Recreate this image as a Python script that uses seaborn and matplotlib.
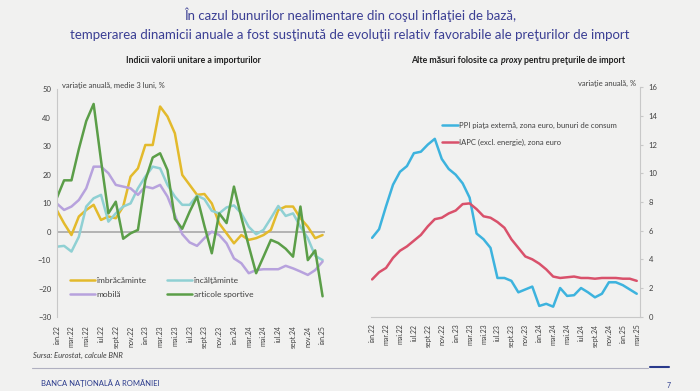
import pandas as pd
import matplotlib.pyplot as plt
import seaborn as sns
import numpy as np
from matplotlib.lines import Line2D

# left panel: monthly, ian.22 - ian.25
imbracaminte = [7.6, 2.9, -1.2, 5.3, 7.6, 9.4, 4.1, 5.3, 4.7, 8.8, 19.3, 22.2, 30.4, 30.4, 43.9, 40.4, 34.5,
                19.9, 16.4, 12.9, 13.2, 9.9, 2.9, -0.6, -4.1, -1.2, -2.9, -2.3, -1.2, 0.6, 7.6, 8.8, 8.8,
                4.7, 1.7, -2.3, -1.2]
incaltaminte = [-5.3, -5.0, -7.0, -1.8, 8.8, 11.7, 12.9, 3.5, 6.4, 8.8, 9.9, 15.2, 19.3, 22.8, 22.2, 16.4,
                12.3, 9.4, 9.4, 12.6, 11.4, 7.3, 6.4, 8.5, 9.2, 6.4, 1.7, -0.9, 0.6, 4.7, 9.0, 5.5, 6.4,
                1.7, -2.3, -8.5, -10.0]
mobila = [9.9, 7.6, 8.8, 11.1, 15.2, 22.8, 22.8, 20.5, 16.4, 15.8, 15.2, 12.9, 15.8, 15.2, 16.4, 12.3, 5.8,
          -0.9, -3.8, -5.0, -2.3, 0.0, -1.2, -4.1, -9.4, -11.1, -14.6, -13.5, -13.2, -13.2, -13.2, -12.0,
          -12.9, -14.0, -15.2, -13.5, -10.5]
articole_sportive = [11.7, 18.0, 18.0, 29.0, 38.8, 44.8, 25.0, 6.4, 10.5, -2.5, -0.6, 0.6, 18.0, 26.0, 27.5,
                     21.6, 4.5, 1.0, 7.0, 12.3, 2.0, -7.6, 6.4, 3.0, 15.8, 5.0, -5.0, -14.6, -8.8, -2.9,
                     -4.0, -6.0, -8.8, 8.8, -10.0, -6.6, -22.7]
left_ticks = ['ian.22', 'mar.22', 'mai.22', 'iul.22', 'sept.22', 'nov.22', 'ian.23', 'mar.23', 'mai.23',
              'iul.23', 'sept.23', 'nov.23', 'ian.24', 'mar.24', 'mai.24', 'iul.24', 'sept.24', 'nov.24',
              'ian.25']

# right panel: monthly, ian.22 - mar.25
ppi = [5.5, 6.1, 7.7, 9.2, 10.1, 10.5, 11.4, 11.5, 12.0, 12.4, 11.0, 10.3, 9.9, 9.3, 8.3, 5.8, 5.4, 4.8,
       2.7, 2.7, 2.5, 1.7, 1.9, 2.1, 0.75, 0.9, 0.7, 2.0, 1.45, 1.5, 2.0, 1.7, 1.35, 1.6, 2.4, 2.4, 2.2,
       1.9, 1.6]
iapc = [2.6, 3.1, 3.4, 4.1, 4.6, 4.9, 5.3, 5.7, 6.3, 6.8, 6.9, 7.2, 7.4, 7.85, 7.9, 7.5, 7.0, 6.9, 6.6,
        6.2, 5.4, 4.8, 4.2, 4.0, 3.7, 3.3, 2.8, 2.7, 2.75, 2.8, 2.7, 2.7, 2.65, 2.7, 2.7, 2.7, 2.65, 2.65,
        2.5]
right_ticks = ['ian.22', 'mar.22', 'mai.22', 'iul.22', 'sept.22', 'nov.22', 'ian.23', 'mar.23', 'mai.23',
               'iul.23', 'sept.23', 'nov.23', 'ian.24', 'mar.24', 'mai.24', 'iul.24', 'sept.24', 'nov.24',
               'ian.25', 'mar.25']

sns.set_style('white')
plt.rcParams['font.family'] = ['Lato', 'DejaVu Sans']
bg = '#f1f1f0'
txt = '#404040'

fig = plt.figure(figsize=(7, 3.91), dpi=100, facecolor=bg)
ax1 = fig.add_axes([0.081, 0.189, 0.383, 0.583])
ax2 = fig.add_axes([0.5296, 0.19, 0.385, 0.587])
for ax in (ax1, ax2):
    ax.set_facecolor(bg)

left_df = pd.DataFrame({
    'luna': np.tile(np.arange(len(imbracaminte)), 4),
    'valoare': imbracaminte + incaltaminte + mobila + articole_sportive,
    'serie': np.repeat(['îmbrăcăminte', 'încălţăminte', 'mobilă', 'articole sportive'], len(imbracaminte)),
})
left_pal = {'îmbrăcăminte': '#e3ba2c', 'încălţăminte': '#8fd0d3', 'mobilă': '#b7a2dd',
            'articole sportive': '#5b9e48'}
ax1.axhline(0, color='#a8a8a8', lw=1.2, zorder=1)
sns.lineplot(data=left_df, x='luna', y='valoare', hue='serie', palette=left_pal, linewidth=1.8,
             ax=ax1, legend=False)
ax1.set_xlim(0, 36.3)
ax1.set_ylim(-30, 50)
ax1.set_yticks(np.arange(-30, 51, 10))
ax1.set_xticks(np.arange(0, 37, 2))
ax1.set_xticklabels(left_ticks, rotation=90)
ax1.set_xlabel('')
ax1.set_ylabel('')
for s in ['top', 'right', 'bottom']:
    ax1.spines[s].set_visible(False)
ax1.spines['left'].set_color('#c8c8c8')
ax1.tick_params(axis='y', labelsize=5.5, labelcolor=txt, length=2, color='#c8c8c8', pad=2)
ax1.tick_params(axis='x', labelsize=5, labelcolor=txt, length=0, pad=6)
ax1.text(0.02, 1.0, 'variaţie anuală, medie 3 luni, %', transform=ax1.transAxes, fontsize=5.5,
         color=txt, va='bottom')
order = ['îmbrăcăminte', 'mobilă', 'încălţăminte', 'articole sportive']
h = [Line2D([], [], color=left_pal[k], lw=1.8) for k in order]
ax1.legend(h, order, ncol=2, frameon=False, fontsize=6, loc='lower left', bbox_to_anchor=(0.02, 0.05),
           handlelength=3, columnspacing=2.5, handletextpad=0.2, labelspacing=0.9, labelcolor=txt)

right_df = pd.DataFrame({
    'luna': np.tile(np.arange(len(ppi)), 2),
    'valoare': ppi + iapc,
    'serie': np.repeat(['PPI piaţa externă, zona euro, bunuri de consum', 'IAPC (excl. energie), zona euro'], len(ppi)),
})
right_pal = {'PPI piaţa externă, zona euro, bunuri de consum': '#3db3de',
             'IAPC (excl. energie), zona euro': '#d9516b'}
sns.lineplot(data=right_df, x='luna', y='valoare', hue='serie', palette=right_pal, linewidth=1.8, ax=ax2)
ax2.set_xlim(-0.2, 38.5)
ax2.set_ylim(0, 16)
ax2.set_yticks(np.arange(0, 17, 2))
ax2.yaxis.tick_right()
ax2.set_xticks(np.arange(0, 39, 2))
ax2.set_xticklabels(right_ticks, rotation=90)
ax2.set_xlabel('')
ax2.set_ylabel('')
for s in ['top', 'left']:
    ax2.spines[s].set_visible(False)
ax2.spines['right'].set_color('#c8c8c8')
ax2.spines['bottom'].set_color('#c8c8c8')
ax2.tick_params(axis='y', labelsize=5.5, labelcolor=txt, length=2, color='#c8c8c8', pad=4)
ax2.tick_params(axis='x', labelsize=5, labelcolor=txt, length=2, color='#c8c8c8', pad=3)
ax2.text(0.985, 1.0, 'variaţie anuală, %', transform=ax2.transAxes, fontsize=5.5, color=txt,
         va='bottom', ha='right')
ax2.legend(frameon=False, fontsize=5.5, loc='upper left', bbox_to_anchor=(0.24, 0.88), handlelength=2,
           handletextpad=0.2, labelspacing=1.3, labelcolor=txt)

# titles
fig.text(0.5, 0.962, 'În cazul bunurilor nealimentare din coşul inflaţiei de bază,', ha='center',
         va='center', fontsize=9.5, color='#3b3f94')
fig.text(0.5, 0.91, 'temperarea dinamicii anuale a fost susţinută de evoluţii relativ favorabile ale preţurilor de import',
         ha='center', va='center', fontsize=9.5, color='#3b3f94')
fig.text(0.277, 0.845, 'Indicii valorii unitare a importurilor', ha='center', va='center', fontsize=6.3,
         fontweight='bold', color='#202020')
fig.text(0.714, 0.845, 'Alte măsuri folosite ca ', ha='right', va='center', fontsize=6.3,
         fontweight='bold', color='#202020')
fig.text(0.716, 0.845, 'proxy', ha='left', va='center', fontsize=6.3, fontweight='bold',
         style='italic', color='#202020')
fig.text(0.748, 0.845, 'pentru preţurile de import', ha='left', va='center', fontsize=6.3,
         fontweight='bold', color='#202020')

# footer
fig.text(0.047, 0.092, 'Sursa: Eurostat, calcule BNR', fontsize=5.5, style='italic', color=txt, va='center')
fig.add_artist(Line2D([0.045, 0.925], [0.058, 0.058], color='#b0b0c0', lw=0.8))
fig.add_artist(Line2D([0.928, 0.955], [0.061, 0.061], color='#2a3a8c', lw=1.5))
fig.text(0.058, 0.02, 'BANCA NAŢIONALĂ A ROMÂNIEI', fontsize=5.5, color='#2a3a8c', va='center')
fig.text(0.953, 0.015, '7', fontsize=5, color='#2a3a8c', va='center')

plt.savefig('out.png', dpi=100, facecolor=bg)
